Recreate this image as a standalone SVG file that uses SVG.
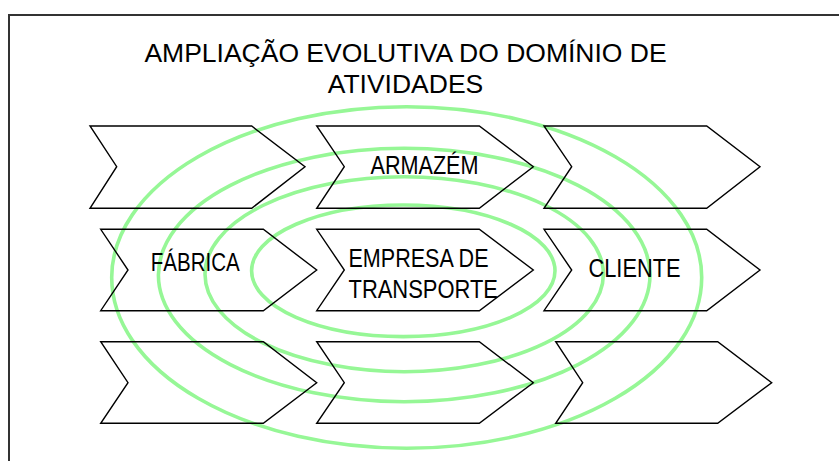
<svg xmlns="http://www.w3.org/2000/svg" width="839" height="461" viewBox="0 0 839 461">
<style>
.ring{fill:none;stroke:#96f796;stroke-width:3.6}
.chev{fill:none;stroke:#000;stroke-width:1.4;stroke-linejoin:miter}
.title{font-family:"Liberation Sans",Arial,sans-serif;font-size:26.5px;fill:#000;text-anchor:middle}
.lbl{font-family:"Liberation Sans",Arial,sans-serif;font-size:26px;fill:#000}
</style>
<rect width="839" height="461" fill="#fff"/>
<path d="M9,461 V15 H839" fill="none" stroke="#333" stroke-width="2"/>
<g id="title">
<text class="title" x="405.5" y="62">AMPLIAÇÃO EVOLUTIVA DO DOMÍNIO DE</text>
<text class="title" x="405.5" y="92.5">ATIVIDADES</text>
</g>
<g id="rings">
<ellipse class="ring" cx="406.7" cy="277.5" rx="295" ry="170.8"/>
<ellipse class="ring" cx="404.2" cy="275" rx="245.8" ry="126.7"/>
<ellipse class="ring" cx="404.2" cy="274.2" rx="199.2" ry="97.5"/>
<ellipse class="ring" cx="403.3" cy="270.8" rx="151.7" ry="65.8"/>
</g>
<g id="connectors"></g>
<g id="r1c1"><polygon class="chev" points="90,126 251.7,126 305,166.7 251.7,208.3 90,208.3 116.7,166.7"/></g>
<g id="armazem"><polygon class="chev" points="316.7,126 479.3,126 533.3,166.7 479.3,208.3 316.7,208.3 344.3,166.7"/>
<text class="lbl" x="370.5" y="173.5" textLength="108" lengthAdjust="spacingAndGlyphs">ARMAZÉM</text></g>
<g id="r1c3"><polygon class="chev" points="544,126 706.7,126 760,166.7 706.7,208.3 544,208.3 571.7,166.7"/></g>
<g id="fabrica"><polygon class="chev" points="100.7,229.3 263.3,229.3 316.7,270 263.3,310.7 100.7,310.7 128,270"/>
<text class="lbl" x="150.8" y="270.5" textLength="89" lengthAdjust="spacingAndGlyphs">FÁBRICA</text></g>
<g id="empresa"><polygon class="chev" points="316.7,229.3 479.3,229.3 533.3,270 479.3,310.7 316.7,310.7 344.3,270"/>
<text class="lbl" x="348.5" y="266.5" textLength="140" lengthAdjust="spacingAndGlyphs">EMPRESA DE</text>
<text class="lbl" x="348.5" y="298" textLength="149.5" lengthAdjust="spacingAndGlyphs">TRANSPORTE</text></g>
<g id="cliente"><polygon class="chev" points="544,229.3 706.7,229.3 760,270 706.7,310.7 544,310.7 571.7,270"/>
<text class="lbl" x="588.5" y="276.7" textLength="92" lengthAdjust="spacingAndGlyphs">CLIENTE</text></g>
<g id="r3c1"><polygon class="chev" points="100.7,341.7 263.3,341.7 316.7,382.7 263.3,423.3 100.7,423.3 128,382.7"/></g>
<g id="r3c2"><polygon class="chev" points="316.7,341.7 479.3,341.7 533.3,382.7 479.3,423.3 316.7,423.3 344.3,382.7"/></g>
<g id="r3c3"><polygon class="chev" points="555.7,341.7 717.7,341.7 771.7,382.7 717.7,423.3 555.7,423.3 582.7,382.7"/></g>
</svg>
